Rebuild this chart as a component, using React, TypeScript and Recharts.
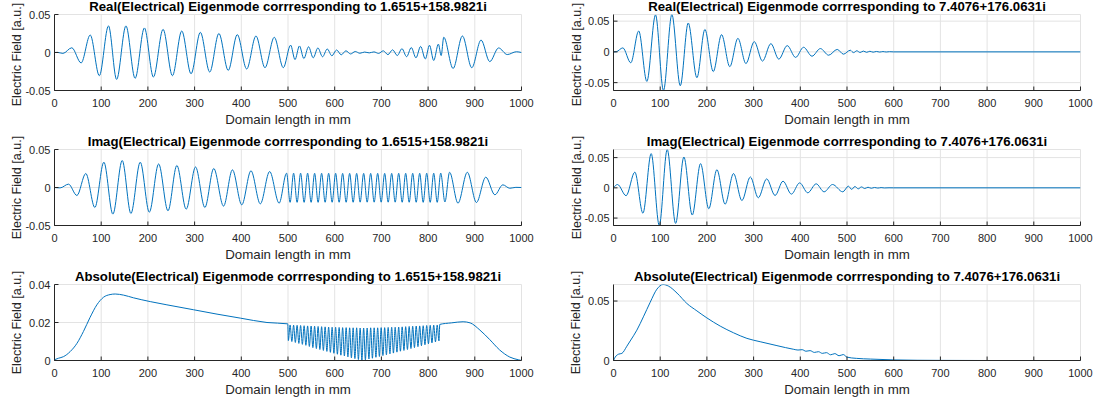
import React from 'react';
import { LineChart, Line, XAxis, YAxis, CartesianGrid } from 'recharts';

type Pt = [number, number];

const FONT = '"Liberation Sans", Arial, Helvetica, sans-serif';
const INK = '#262626';
const LINE = '#0072BD';
const GRID = '#e3e3e3';

const xTicks = [0, 100, 200, 300, 400, 500, 600, 700, 800, 900, 1000];
const yTicksA = [-0.05, 0, 0.05];
const yTicksAbsA = [0, 0.02, 0.04];
const yTicksAbsB = [0, 0.05];

const titles = [
  'Real(Electrical) Eigenmode corrresponding to 1.6515+158.9821i',
  'Real(Electrical) Eigenmode corrresponding to 7.4076+176.0631i',
  'Imag(Electrical) Eigenmode corrresponding to 1.6515+158.9821i',
  'Imag(Electrical) Eigenmode corrresponding to 7.4076+176.0631i',
  'Absolute(Electrical) Eigenmode corrresponding to 1.6515+158.9821i',
  'Absolute(Electrical) Eigenmode corrresponding to 7.4076+176.0631i',
];
const xLabel = 'Domain length in mm';
const yLabel = 'Electric Field [a.u.]';

// Real part, eigenvalue 1.6515+158.9821i (extrema)
const realA: Pt[] = [
  [0, 0], [6, 0.0002], [18, -0.0012], [37, 0.0062], [57, -0.0137], [76.5, 0.023], [96, -0.0305],
  [115.6, 0.035], [133, -0.0354], [153, 0.035], [172.6, -0.034], [192.5, 0.0323], [211.8, -0.0323],
  [232.5, 0.0305], [252.5, -0.0305], [272.5, 0.0283], [292.4, -0.028], [312.3, 0.0265], [332.4, -0.0257],
  [352, 0.025], [372, -0.0235], [391.4, 0.0235], [411.5, -0.0217], [431.4, 0.0217], [450.7, -0.02],
  [470.6, 0.02], [490, -0.02], [505.6, 0.0097], [515, -0.0093], [524.5, 0.0086], [534, -0.008],
  [544, 0.0075], [554, -0.007], [564, 0.006], [574, -0.0056], [584, 0.0046], [594, -0.0043],
  [604, 0.0033], [614, -0.003], [624, 0.0022], [634, -0.0019], [644, 0.0013], [654, -0.001],
  [664, 0.0006], [674, -0.0005], [684, 0.0008], [694, -0.0012], [704, 0.0022], [714, -0.0028],
  [724, 0.0035], [734, -0.004], [744, 0.005], [754, -0.0055], [764, 0.0065], [774, -0.007],
  [784, 0.008], [794, -0.0085], [803, 0.0095], [812, -0.0105], [822, 0.011], [828, -0.004],
  [833.5, 0.02], [853.5, -0.021], [873.5, 0.0217], [893.5, -0.02], [913.4, 0.0164], [932, -0.012],
  [951, 0.006], [969.5, -0.0027], [989, 0.001], [1000, 0],
];

// Imag part, eigenvalue 1.6515+158.9821i
const imagA: Pt[] = [
  [0, 0], [12, -0.0005], [30, 0.0044], [48, -0.0105], [67, 0.0184], [86.4, -0.0263], [105.7, 0.0333],
  [125, -0.035], [145, 0.0355], [163.6, -0.0342], [183.6, 0.0333], [203, -0.0325], [223, 0.031],
  [243, -0.0307], [262, 0.029], [282, -0.0285], [302, 0.027], [322, -0.0263], [341, 0.025],
  [362, -0.0245], [381, 0.0232], [401, -0.0228], [420.7, 0.022], [440.7, -0.0215], [460.7, 0.021],
  [481, -0.0206], [497, 0.0188], [504.5, -0.0195], [512, 0.0188], [519.5, -0.0195], [527, 0.0188],
  [534.5, -0.0195], [542, 0.0188], [549.5, -0.0195], [557, 0.0187], [564.5, -0.0195], [572, 0.0187],
  [579.5, -0.0194], [587, 0.0187], [594.5, -0.0194], [602, 0.0187], [609.5, -0.0194], [617, 0.0186],
  [624.5, -0.0194], [632, 0.0186], [639.5, -0.0194], [647, 0.0186], [654.5, -0.0193], [662, 0.0186],
  [669.5, -0.0193], [677, 0.0186], [684.5, -0.0193], [692, 0.0186], [699.5, -0.0193], [707, 0.0186],
  [714.5, -0.0193], [722, 0.0186], [729.5, -0.0193], [737, 0.0187], [744.5, -0.0194], [752, 0.0187],
  [759.5, -0.0194], [767, 0.0187], [774.5, -0.0194], [782, 0.0187], [789.5, -0.0195], [797, 0.0188],
  [804.5, -0.0195], [812, 0.0188], [819.5, -0.0195], [827, 0.0189], [836, -0.019], [846, 0.02],
  [864, -0.0206], [884, 0.02], [903.5, -0.0197], [923.5, 0.0136], [943, -0.0096], [960, 0.0035],
  [975, -0.001], [988, 0.0002], [1000, 0],
];

// Absolute value, eigenvalue 1.6515+158.9821i
const absA: Pt[] = [
  [0, 0.0004], [8.6, 0.0012], [19, 0.002], [33.6, 0.0047], [48, 0.009], [62, 0.0153], [76, 0.0226],
  [90.7, 0.0293], [105, 0.0333], [119, 0.0347], [130, 0.035], [148, 0.0344], [169, 0.033],
  [205, 0.031], [240.7, 0.0293], [298, 0.0267], [348, 0.0244], [398, 0.0223], [455, 0.02],
  [499.5, 0.0193],
  [500.75, 0.0105], [504.5, 0.0187], [508.25, 0.01], [512, 0.0186], [515.75, 0.0095], [519.5, 0.0185],
  [523.25, 0.009], [527, 0.0184], [530.75, 0.0085], [534.5, 0.0183], [538.25, 0.008], [542, 0.0182],
  [545.75, 0.0074], [549.5, 0.0181], [553.25, 0.0068], [557, 0.018], [560.75, 0.0063], [564.5, 0.0179],
  [568.25, 0.0058], [572, 0.0178], [575.75, 0.0053], [579.5, 0.0177], [583.25, 0.0048], [587, 0.0176],
  [590.75, 0.0043], [594.5, 0.0175], [598.25, 0.0038], [602, 0.0175], [605.75, 0.0033], [609.5, 0.0174],
  [613.25, 0.0028], [617, 0.0173], [620.75, 0.0024], [624.5, 0.0173], [628.25, 0.0019], [632, 0.0172],
  [635.75, 0.0014], [639.5, 0.0172], [643.25, 0.001], [647, 0.0172], [650.75, 0.0005], [654.5, 0.0171],
  [658.25, 0.0001], [662, 0.0171], [665.75, 0.0003], [669.5, 0.0171], [673.25, 0.0008], [677, 0.0172],
  [680.75, 0.0012], [684.5, 0.0172], [688.25, 0.0017], [692, 0.0172], [695.75, 0.0021], [699.5, 0.0173],
  [703.25, 0.0026], [707, 0.0173], [710.75, 0.003], [714.5, 0.0174], [718.25, 0.0035], [722, 0.0175],
  [725.75, 0.0039], [729.5, 0.0175], [733.25, 0.0044], [737, 0.0176], [740.75, 0.0049], [744.5, 0.0177],
  [748.25, 0.0053], [752, 0.0178], [755.75, 0.0058], [759.5, 0.0179], [763.25, 0.0063], [767, 0.018],
  [770.75, 0.0068], [774.5, 0.0181], [778.25, 0.0073], [782, 0.0182], [785.75, 0.0078], [789.5, 0.0183],
  [793.25, 0.0083], [797, 0.0184], [800.75, 0.0088], [804.5, 0.0185], [808.25, 0.0093], [812, 0.0186],
  [815.75, 0.0098], [819.5, 0.0187], [823.25, 0.0103],
  [825, 0.019], [850, 0.0198], [875, 0.0204], [890, 0.0198], [911, 0.016], [932, 0.011],
  [953, 0.0056], [975, 0.0018], [993, 0.0004], [1000, 0],
];

// Real part, eigenvalue 7.4076+176.0631i
const realB: Pt[] = [
  [0, 0], [6, 0.0003], [20, 0.0065], [37, -0.0177], [54, 0.034], [71.4, -0.048], [90, 0.0602],
  [107, -0.0628], [125, 0.0608], [143, -0.055], [160, 0.047], [178.6, -0.042], [195.7, 0.0365],
  [213.6, -0.032], [231.4, 0.028], [249, -0.024], [266.4, 0.022], [283.6, -0.019], [301.4, 0.0167],
  [319, -0.015], [337, 0.0134], [354, -0.0118], [372, 0.0102], [390, -0.009], [407, 0.0075],
  [425, -0.007], [443, 0.0054], [460.7, -0.0054], [479, 0.004], [492.5, -0.0037], [507, 0.0027],
  [514, -0.0012], [521, 0.0018], [528, -0.001], [535, 0.0013], [542, -0.0007], [549, 0.001],
  [556, -0.0005], [563, 0.0007], [570, -0.0003], [577, 0.0005], [584, -0.0002], [591, 0.0003],
  [600, 0], [1000, 0],
];

// Imag part, eigenvalue 7.4076+176.0631i
const imagB: Pt[] = [
  [0, 0], [8.6, 0.0055], [27, -0.013], [45.7, 0.026], [63, -0.042], [80.7, 0.0566], [98, -0.0623],
  [115, 0.0634], [133, -0.0588], [150.7, 0.051], [168.6, -0.045], [186.4, 0.04], [204, -0.0346],
  [221.4, 0.03], [239, -0.027], [257, 0.0236], [275, -0.021], [293, 0.018], [310, -0.0165],
  [328, 0.0148], [346, -0.0126], [363, 0.011], [381, -0.0104], [398.6, 0.0082], [416, -0.0082],
  [434, 0.0066], [451, -0.0066], [469, 0.0055], [491, -0.0066], [503, 0.0027], [510, -0.0025],
  [517, 0.0022], [524, -0.0017], [531, 0.0015], [538, -0.0011], [545, 0.001], [552, -0.0007],
  [559, 0.0006], [566, -0.0004], [573, 0.0004], [580, -0.0002], [590, 0.0001], [600, 0], [1000, 0],
];

// Absolute value, eigenvalue 7.4076+176.0631i
const absB: Pt[] = [
  [0, 0], [3.6, 0.0028], [10.7, 0.0053], [18, 0.006], [28.6, 0.012], [35.7, 0.0164], [50, 0.0255],
  [64, 0.0367], [78.6, 0.049], [93, 0.06], [106, 0.0639], [118, 0.0625], [136, 0.0567], [157, 0.048],
  [178.6, 0.0417], [200, 0.0358], [228.6, 0.0289], [257, 0.0233], [285.7, 0.0186], [314, 0.0158],
  [350, 0.0125], [386, 0.0094], [395, 0.0088], [404, 0.0091], [412, 0.0078], [421, 0.0083],
  [430, 0.0068], [439, 0.0074], [447, 0.006], [456, 0.0066], [465, 0.0048], [474, 0.0058],
  [483, 0.004], [492, 0.005], [500, 0.0028], [520, 0.0018], [550, 0.0012], [600, 0.0005],
  [650, 0.0002], [700, 0.0001], [800, 0], [1000, 0],
];

type PanelProps = {
  x0: number; x1: number; y0: number; y1: number;
  data: Pt[]; domain: [number, number]; yTicks: number[];
};

const W = 1101;
const H = 407;
const YW = 40;
const XH = 30;

const XTickBottom = (props: any) => {
  const { x, y, payload } = props;
  return (
    <g>
      <line x1={x} x2={x} y1={y} y2={y - 4} stroke={INK} strokeWidth={1} />
      <text x={x} y={y + 16} textAnchor="middle" fontSize={11} fill={INK} fontFamily={FONT}>
        {payload.value}
      </text>
    </g>
  );
};
const XTickTop = (props: any) => {
  const { x, y } = props;
  return <line x1={x} x2={x} y1={y} y2={y + 4} stroke={INK} strokeWidth={1} />;
};
const YTickLeft = (props: any) => {
  const { x, y, payload } = props;
  return (
    <g>
      <line x1={x} x2={x + 4} y1={y} y2={y} stroke={INK} strokeWidth={1} />
      <text x={x - 4} y={y + 4} textAnchor="end" fontSize={11} fill={INK} fontFamily={FONT}>
        {String(payload.value)}
      </text>
    </g>
  );
};
const YTickRight = (props: any) => {
  const { x, y } = props;
  return <line x1={x} x2={x - 4} y1={y} y2={y} stroke={INK} strokeWidth={1} />;
};

const Panel = ({ x0, x1, y0, y1, data, domain, yTicks }: PanelProps) => {
  const rows = data.map(([x, y]) => ({ x, y }));
  return (
    <div style={{ position: 'absolute', left: 0, top: 0 }}>
      <LineChart
        width={W}
        height={H}
        data={rows}
        margin={{ top: y0, left: x0 - YW, right: W - x1, bottom: H - y1 - XH }}
      >
        <CartesianGrid xAxisId="b" yAxisId="l" stroke={GRID} strokeWidth={1} />
        <XAxis
          xAxisId="b" dataKey="x" type="number" domain={[0, 1000]} ticks={xTicks} interval={0}
          height={XH} tickSize={0} tickMargin={0} tickLine={false} tick={<XTickBottom />}
          axisLine={{ stroke: INK }} allowDataOverflow
        />
        <XAxis
          xAxisId="t" orientation="top" dataKey="x" type="number" domain={[0, 1000]} ticks={xTicks}
          interval={0} height={0} tickSize={0} tickMargin={0} tickLine={false} tick={<XTickTop />}
          axisLine={{ stroke: INK }} allowDataOverflow
        />
        <YAxis
          yAxisId="l" type="number" domain={domain} ticks={yTicks} interval={0} width={YW}
          tickSize={0} tickMargin={0} tickLine={false} tick={<YTickLeft />}
          axisLine={{ stroke: INK }} allowDataOverflow
        />
        <YAxis
          yAxisId="r" orientation="right" type="number" domain={domain} ticks={yTicks} interval={0}
          width={0} tickSize={0} tickMargin={0} tickLine={false} tick={<YTickRight />}
          axisLine={{ stroke: INK }} allowDataOverflow
        />
        <Line
          xAxisId="b" yAxisId="l" dataKey="y" type="monotone" dot={false} stroke={LINE}
          strokeWidth={1} isAnimationActive={false}
        />
      </LineChart>
    </div>
  );
};

const cols = [
  { x0: 54.5, x1: 521.5, yl: 21 },
  { x0: 613.5, x1: 1080.5, yl: 581 },
];
const rowsPos = [
  { y0: 14.5, y1: 90.5 },
  { y0: 149.5, y1: 225.5 },
  { y0: 284.5, y1: 360.5 },
];

const panels = [
  { r: 0, c: 0, data: realA, domain: [-0.05, 0.05] as [number, number], yTicks: yTicksA },
  { r: 0, c: 1, data: realB, domain: [-0.0628, 0.0608] as [number, number], yTicks: yTicksA },
  { r: 1, c: 0, data: imagA, domain: [-0.05, 0.05] as [number, number], yTicks: yTicksA },
  { r: 1, c: 1, data: imagB, domain: [-0.0623, 0.0634] as [number, number], yTicks: yTicksA },
  { r: 2, c: 0, data: absA, domain: [0, 0.04] as [number, number], yTicks: yTicksAbsA },
  { r: 2, c: 1, data: absB, domain: [0, 0.0639] as [number, number], yTicks: yTicksAbsB },
];

export default function App() {
  return (
    <div style={{ position: 'fixed', left: 0, top: 0, width: W, height: H, background: '#fff' }}>
      {panels.map((p, i) => {
        const c = cols[p.c];
        const r = rowsPos[p.r];
        return (
          <Panel key={i} x0={c.x0} x1={c.x1} y0={r.y0} y1={r.y1} data={p.data} domain={p.domain} yTicks={p.yTicks} />
        );
      })}
      <svg width={W} height={H} style={{ position: 'absolute', left: 0, top: 0, pointerEvents: 'none' }}>
        {panels.map((p, i) => {
          const c = cols[p.c];
          const r = rowsPos[p.r];
          const cx = (c.x0 + c.x1) / 2;
          const cy = (r.y0 + r.y1) / 2 + (p.r === 0 ? 2 : 0);
          const ylx = p.r === 2 && p.c === 1 ? c.yl - 1.5 : c.yl;
          return (
            <g key={i} fontFamily={FONT}>
              <text x={cx} y={r.y0 - 4} textAnchor="middle" fontSize={13.2} fontWeight="bold" fill="#000">
                {titles[i]}
              </text>
              <text x={cx} y={r.y1 + 33} textAnchor="middle" fontSize={13.3} fill={INK}>
                {xLabel}
              </text>
              <text
                x={ylx} y={cy} textAnchor="middle" fontSize={12.6} fill={INK}
                transform={`rotate(-90, ${ylx}, ${cy})`}
              >
                {yLabel}
              </text>
            </g>
          );
        })}
      </svg>
    </div>
  );
}
